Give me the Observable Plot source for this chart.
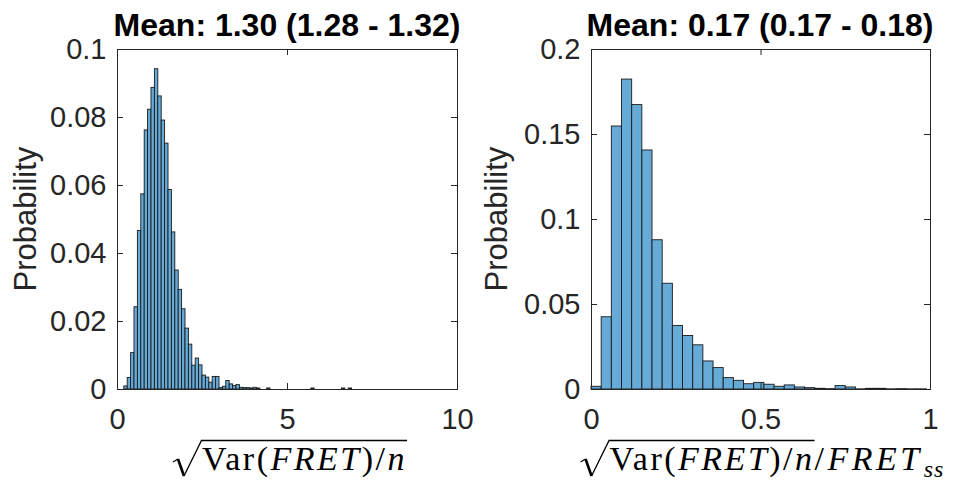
<!DOCTYPE html>
<html><head><meta charset="utf-8">
<script src="https://cdn.jsdelivr.net/npm/d3@7"></script>
<script src="https://cdn.jsdelivr.net/npm/@observablehq/plot@0.6"></script>
<style>
html,body{margin:0;padding:0;background:#fff;}
#fig{position:relative;width:955px;height:482px;overflow:hidden;font-family:"Liberation Sans",Arial,sans-serif;}
#fig > svg{position:absolute;top:0;}
</style></head><body><div id="fig"></div>
<script>
// ---- data ----
const leftBinEdges = [0.2,0.3,0.4,0.5,0.6,0.7,0.8,0.9,1.0,1.1,
  1.2,1.3,1.4,1.5,1.6,1.7,1.8,1.9,2.0,2.1,
  2.2,2.3,2.4,2.5,2.6,2.7,2.8,2.9,3.0,3.1,
  3.2,3.3,3.4,3.5,3.6,3.7,3.8,3.9,4.0,4.1,
  4.4,5.7,6.6,6.8];
const leftBinWidth = 0.1;
const leftProb = [0.0009,0.0034,0.0107,0.0242,0.0466,0.0574,0.0762,0.0823,0.0887,0.0942,
  0.0862,0.0791,0.0723,0.0587,0.0462,0.0350,0.0293,0.0236,0.0179,0.0132,
  0.0070,0.0091,0.0071,0.0041,0.0035,0.0020,0.0037,0.0037,0.0004,0.0008,
  0.0025,0.0015,0.0010,0.0013,0.0005,0.0004,0.0004,0.0003,0.0005,0.0003,
  0.0003,0.0003,0.0003,0.0003];
const rightBinEdges = [0.00,0.03,0.06,0.09,0.12,0.15,0.18,0.21,0.24,0.27,
  0.30,0.33,0.36,0.39,0.42,0.45,0.48,0.51,0.54,0.57,
  0.60,0.63,0.66,0.69,0.72,0.75,0.78,0.81,0.84,0.87,
  0.90,0.93,0.96];
const rightBinWidth = 0.03;
const rightProb = [0.0016,0.0425,0.1547,0.1823,0.1673,0.1406,0.0878,0.0622,0.0374,0.0315,
  0.0260,0.0165,0.0126,0.0067,0.0051,0.0031,0.0039,0.0028,0.0016,0.0024,
  0.0012,0.0008,0.0004,0.0002,0.0020,0.0012,0.0001,0.0004,0.0004,0.0001,
  0.0002,0.0001,0.0001];
const leftXDomain = [0, 10];
const leftYDomain = [0, 0.1];
const rightXDomain = [0, 1];
const rightYDomain = [0, 0.2];
const leftXTicks = [0, 5, 10];
const leftYTicks = [0, 0.02, 0.04, 0.06, 0.08, 0.1];
const rightXTicks = [0, 0.5, 1];
const rightYTicks = [0, 0.05, 0.1, 0.15, 0.2];
const titles = ["Mean: 1.30 (1.28 - 1.32)", "Mean: 0.17 (0.17 - 0.18)"];
const yLabel = "Probability";

// ---- drawing ----
const fig = document.getElementById("fig");
const AX = "#262626";
const fmt = d3.format("~g");

function panel({edges, bw, probs, xDomain, yDomain, xTicks, yTicks, svgLeft, svgWidth, mL, mR}) {
  const data = edges.map((e, i) => ({x1: e, x2: e + bw, y1: 0, y2: probs[i]}));
  const H = 482, mT = 49, mB = 93;
  const fw = svgWidth - mL - mR, fh = H - mT - mB;
  const tl = 6;
  const p = Plot.plot({
    width: svgWidth, height: H,
    marginLeft: mL, marginRight: mR, marginTop: mT, marginBottom: mB,
    style: {fontFamily: "Liberation Sans, Arial, sans-serif", fontSize: "29px", color: AX, background: "transparent", overflow: "visible"},
    x: {domain: xDomain},
    y: {domain: yDomain},
    marks: [
      Plot.rect(data, {x1: "x1", x2: "x2", y1: "y1", y2: "y2", fill: "#66AAD7", stroke: "#1a1a1a", strokeWidth: 0.9}),
      Plot.frame({stroke: AX, strokeWidth: 1}),
      Plot.tickX(xTicks, {x: d => d, insetTop: fh - tl, stroke: AX}),
      Plot.tickX(xTicks, {x: d => d, insetBottom: fh - tl, stroke: AX}),
      Plot.tickY(yTicks, {y: d => d, insetRight: fw - tl, stroke: AX}),
      Plot.tickY(yTicks, {y: d => d, insetLeft: fw - tl, stroke: AX}),
      Plot.axisX({ticks: xTicks, tickSize: 0, tickPadding: 19, tickFormat: fmt, label: null, fontSize: 29}),
      Plot.axisY({ticks: yTicks, tickSize: 0, tickPadding: 11, tickFormat: fmt, label: null, fontSize: 29})
    ]
  });
  p.style.left = svgLeft + "px";
  fig.appendChild(p);
}

panel({edges: leftBinEdges, bw: leftBinWidth, probs: leftProb, xDomain: leftXDomain, yDomain: leftYDomain,
  xTicks: leftXTicks, yTicks: leftYTicks, svgLeft: 0, svgWidth: 477, mL: 117, mR: 20});
panel({edges: rightBinEdges, bw: rightBinWidth, probs: rightProb, xDomain: rightXDomain, yDomain: rightYDomain,
  xTicks: rightXTicks, yTicks: rightYTicks, svgLeft: 477, svgWidth: 478, mL: 114, mR: 25});

// overlay for titles and labels
const ov = d3.select(fig).append("svg").attr("width", 955).attr("height", 482).style("left", "0px")
  .style("pointer-events", "none");

const centers = [287, 760];
titles.forEach((t, i) => {
  ov.append("text").attr("x", centers[i]).attr("y", 36).attr("text-anchor", "middle")
    .style("font-family", "Liberation Sans, Arial, sans-serif").style("font-weight", "bold")
    .style("font-size", "32px").attr("fill", "#000").text(t);
});
[36, 507].forEach(x => {
  ov.append("text").attr("transform", `translate(${x},219) rotate(-90)`).attr("text-anchor", "middle")
    .style("font-family", "Liberation Sans, Arial, sans-serif").style("font-size", "31px")
    .attr("fill", AX).text(yLabel);
});

function mathLabel(cx, base, inner, after, sub) {
  const g = ov.append("g");
  const t = g.append("text").attr("y", base)
    .style("font-family", "Liberation Serif, 'Times New Roman', serif").style("font-size", "34px")
    .attr("letter-spacing", 2.5).attr("fill", "#000");
  inner.forEach(([s, it]) => t.append("tspan").style("font-style", it ? "italic" : "normal").text(s));
  const w1 = t.node().getComputedTextLength();
  after.forEach(([s, it]) => t.append("tspan").attr("letter-spacing", 3.5).style("font-style", it ? "italic" : "normal").text(s));
  if (sub) t.append("tspan").attr("dx", 1).attr("dy", 7).attr("letter-spacing", 1).style("font-size", "24px").style("font-style", "italic").text(sub);
  const W = t.node().getComputedTextLength();
  const rw = 29;
  const x0 = cx - (rw + W) / 2;
  t.attr("x", x0 + rw);
  g.append("path").attr("d", `M${x0},${base-8} L${x0+5},${base-11}`).attr("stroke", "#000").attr("stroke-width", 1.2).attr("fill", "none");
  g.append("path").attr("d", `M${x0+5},${base-11} L${x0+11},${base+6}`).attr("stroke", "#000").attr("stroke-width", 2.6).attr("fill", "none");
  g.append("path").attr("d", `M${x0+11},${base+6} L${x0+rw-0.5},${base-29.5} L${x0+rw+w1},${base-29.5}`)
    .attr("stroke", "#000").attr("stroke-width", 1.3).attr("fill", "none");
}
const innerParts = [["Var(", false], ["FRET", true], [")/", false], ["n", true]];
mathLabel(290, 470, innerParts, [], null);
mathLabel(762, 470, innerParts, [["/", false], ["FRET", true]], "ss");
</script>
</body></html>
